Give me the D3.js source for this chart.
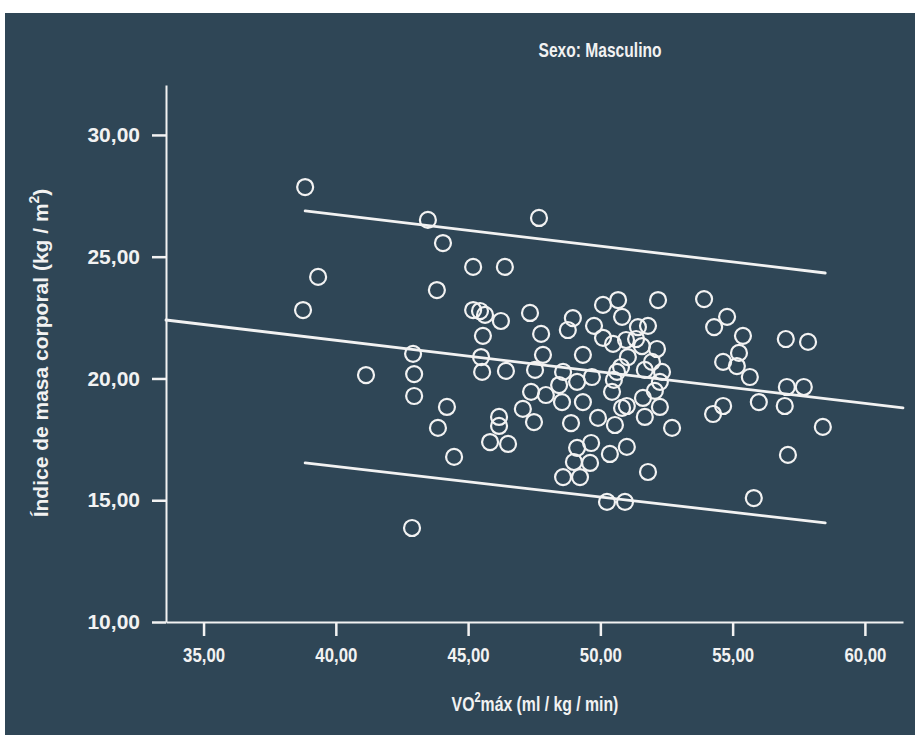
<!DOCTYPE html>
<html>
<head>
<meta charset="utf-8">
<script src="https://cdn.jsdelivr.net/npm/d3@7"></script>
<style>
  html, body { margin: 0; padding: 0; background: #ffffff; }
  svg { display: block; }
  text { font-family: "Liberation Sans", Arial, sans-serif; fill: #f2f2f2; }
</style>
</head>
<body>
<script>
// VO2 max (ml/kg/min) for each subject
const vo2 = [
  38.84, 38.76, 39.33, 41.14, 43.48, 44.05, 43.82, 42.92, 42.96, 42.96,
  42.88, 43.86, 44.20, 44.47, 45.19, 46.39, 47.68, 45.19, 45.45, 45.64,
  46.24, 45.56, 45.49, 45.53, 46.43, 47.34, 47.76, 46.17, 46.17, 45.83,
  46.51, 47.53, 47.83, 47.38, 47.07, 47.49, 50.10, 50.67, 50.82, 48.96,
  48.77, 49.76, 50.10, 50.48, 49.34, 48.59, 49.68, 50.63, 48.44, 49.12,
  50.44, 47.94, 48.55, 49.34, 48.89, 49.91, 50.55, 50.82, 49.65, 49.12,
  50.36, 51.00, 49.00, 49.61, 48.59, 49.23, 50.25, 50.93, 52.18, 51.42,
  51.80, 50.97, 51.35, 51.57, 52.14, 51.04, 51.95, 50.78, 51.68, 52.33,
  52.25, 50.51, 52.06, 51.61, 51.00, 52.25, 51.68, 52.71, 51.80, 53.92,
  54.79, 54.30, 55.39, 57.01, 57.85, 55.24, 54.64, 55.16, 55.65, 57.05,
  57.69, 55.99, 56.97, 54.64, 54.26, 58.41, 57.09, 55.80
];

// Body mass index (kg/m2) for the same subjects
const imc = [
  27.86, 22.81, 24.17, 20.14, 26.51, 25.56, 23.63, 21.01, 20.18, 19.28,
  13.86, 17.97, 18.83, 16.78, 24.58, 24.58, 26.59, 22.81, 22.77, 22.61,
  22.36, 21.75, 20.88, 20.27, 20.31, 22.69, 21.83, 18.42, 18.05, 17.39,
  17.31, 20.35, 20.97, 19.45, 18.75, 18.21, 23.02, 23.22, 22.53, 22.48,
  21.99, 22.16, 21.67, 21.42, 20.97, 20.27, 20.06, 20.27, 19.73, 19.86,
  19.45, 19.32, 19.03, 19.03, 18.17, 18.38, 18.09, 18.79, 17.35, 17.15,
  16.90, 17.19, 16.57, 16.53, 15.95, 15.95, 14.93, 14.93, 23.22, 22.11,
  22.16, 21.58, 21.62, 21.33, 21.21, 20.88, 20.68, 20.47, 20.35, 20.27,
  19.86, 19.94, 19.49, 19.20, 18.87, 18.83, 18.42, 17.97, 16.16, 23.26,
  22.53, 22.11, 21.75, 21.62, 21.50, 21.05, 20.68, 20.51, 20.06, 19.65,
  19.65, 19.03, 18.87, 18.87, 18.54, 18.01, 16.86, 15.09
];

// Linear fit across the whole axis range
const fitX = [33.58, 61.44];
const fitY = [22.40, 18.79];

// Prediction interval for individual values
const bandX = [38.84, 58.50];
const bandUpper = [26.88, 24.33];
const bandLower = [16.53, 14.07];

const xTicks = [35, 40, 45, 50, 55, 60];
const yTicks = [10, 15, 20, 25, 30];
const xDomain = [33.58, 61.44];
const yDomain = [10, 32.05];

const W = 915, H = 735;
const panelBg = "#2f4656";
const ink = "#f2f2f2";

const svg = d3.select("body").append("svg")
  .attr("width", W).attr("height", H);

svg.append("rect")
  .attr("x", 5).attr("y", 13)
  .attr("width", W - 5).attr("height", H - 13)
  .attr("fill", panelBg);

const x = d3.scaleLinear().domain(xDomain).range([166, 903]);
const y = d3.scaleLinear().domain(yDomain).range([622, 85]);

const fmt = v => d3.format(".2f")(v).replace(".", ",");

// Title (narrow bold face)
svg.append("g").attr("transform", "translate(600,57)")
  .append("text")
  .attr("transform", "scale(0.78,1)")
  .attr("text-anchor", "middle")
  .style("font-size", "20px").style("font-weight", "bold")
  .text("Sexo: Masculino");

// Axes
const gx = svg.append("g").attr("transform", `translate(0,${y(yDomain[0])})`)
  .call(d3.axisBottom(x).tickValues(xTicks).tickFormat(fmt)
    .tickSizeInner(14).tickSizeOuter(0).tickPadding(12));
const gy = svg.append("g").attr("transform", `translate(${x(xDomain[0])},0)`)
  .call(d3.axisLeft(y).tickValues(yTicks).tickFormat(fmt)
    .tickSizeInner(14).tickSizeOuter(0).tickPadding(12));

[gx, gy].forEach(g => {
  g.select(".domain").attr("stroke", ink).attr("stroke-width", 2);
  g.selectAll(".tick line").attr("stroke", ink).attr("stroke-width", 2.5);
  g.selectAll(".tick text")
    .style("font-size", "20px").style("font-weight", "bold")
    .attr("fill", ink);
});
gx.selectAll(".tick text").attr("transform", "scale(0.84,1)");
gy.selectAll(".tick text").style("font-size", "21px");

// Axis titles
const xt = svg.append("g").attr("transform", "translate(535,711)")
  .append("text")
  .attr("transform", "scale(0.79,1)")
  .attr("text-anchor", "middle")
  .style("font-size", "20px").style("font-weight", "bold");
xt.append("tspan").text("VO");
xt.append("tspan").attr("dy", -9).style("font-size", "14px").text("2");
xt.append("tspan").attr("dy", 9).text("máx (ml / kg / min)");

const yt = svg.append("text")
  .attr("transform", `translate(48,353) rotate(-90)`)
  .attr("text-anchor", "middle")
  .style("font-size", "21px").style("font-weight", "bold");
yt.append("tspan").text("Índice de masa corporal (kg / m");
yt.append("tspan").attr("dy", -9).style("font-size", "14px").text("2");
yt.append("tspan").attr("dy", 9).text(")");

// Fit and interval lines
const line = d3.line().x(d => x(d[0])).y(d => y(d[1]));
const lines = [
  d3.zip(fitX, fitY),
  d3.zip(bandX, bandUpper),
  d3.zip(bandX, bandLower)
];
svg.append("g").selectAll("path").data(lines).join("path")
  .attr("d", line)
  .attr("fill", "none")
  .attr("stroke", ink)
  .attr("stroke-width", 2.8)
  .attr("stroke-linecap", "round");

// Observations
svg.append("g").selectAll("circle").data(d3.zip(vo2, imc)).join("circle")
  .attr("cx", d => x(d[0]))
  .attr("cy", d => y(d[1]))
  .attr("r", 8)
  .attr("fill", "none")
  .attr("stroke", ink)
  .attr("stroke-width", 2.2);
</script>
</body>
</html>
